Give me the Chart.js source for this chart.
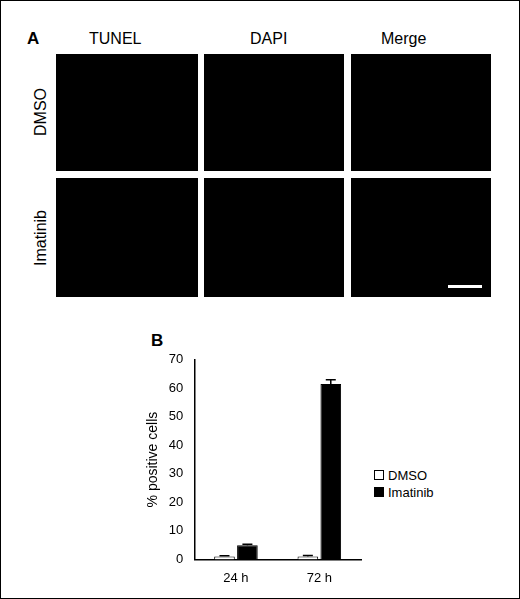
<!DOCTYPE html>
<html><head><meta charset="utf-8">
<script src="https://cdn.jsdelivr.net/npm/chart.js@4/dist/chart.umd.min.js"></script>
<style>
body{margin:0;background:#fff;font-family:"Liberation Sans",Arial,sans-serif;}
#fig{position:absolute;left:0;top:0;width:518px;height:597px;border:1px solid #000;}
.t{position:absolute;font-size:16px;color:#000;}
.img{position:absolute;background:#000;}
.rot{position:absolute;transform:rotate(-90deg);transform-origin:center;font-size:16px;white-space:nowrap;}
#wrap{position:absolute;left:140px;top:348px;width:230px;height:240px;}
.lg{position:absolute;font-size:13px;}
.box{display:inline-block;width:8px;height:8px;border:1px solid #000;margin-right:4px;vertical-align:0px;}
</style></head><body>
<div id="fig">
<div class="t" style="left:26px;top:28px;font-weight:bold;font-size:17px">A</div>
<div class="t" style="left:88px;top:29px">TUNEL</div>
<div class="t" style="left:249px;top:29px">DAPI</div>
<div class="t" style="left:380px;top:29px">Merge</div>
<div class="img" style="left:55px;top:53px;width:142px;height:117px"></div>
<div class="img" style="left:203px;top:53px;width:140px;height:117px"></div>
<div class="img" style="left:350px;top:53px;width:140px;height:117px"></div>
<div class="img" style="left:55px;top:177px;width:142px;height:119px"></div>
<div class="img" style="left:203px;top:177px;width:140px;height:119px"></div>
<div class="img" style="left:350px;top:177px;width:140px;height:119px"></div>
<div style="position:absolute;left:447px;top:284px;width:34px;height:3px;background:#fff"></div>
<div class="rot" style="left:10px;top:102px;width:60px;text-align:center">DMSO</div>
<div class="rot" style="left:0px;top:228px;width:80px;text-align:center">Imatinib</div>
<div class="t" style="left:150px;top:330px;font-weight:bold;font-size:17px">B</div>
<div id="wrap"><canvas id="c"></canvas></div>
<div class="lg" style="left:373px;top:467px"><span class="box" style="background:#fff"></span>DMSO</div>
<div class="lg" style="left:373px;top:484px"><span class="box" style="background:#000"></span>Imatinib</div>
</div>
<script>
const categories=["24 h","72 h"];
const dmso=[1.0,1.0];
const dmsoErr=[0.3,0.4];
const imatinib=[5.0,61.5];
const imatinibErr=[0.3,1.5];
const errPlugin={id:'err',afterDatasetsDraw(ch){
 const ctx=ch.ctx,y=ch.scales.y;
 [[0,dmsoErr],[1,imatinibErr]].forEach(([di,errs])=>{
  ch.getDatasetMeta(di).data.forEach((b,i)=>{
   const v=ch.data.datasets[di].data[i];
   const top=y.getPixelForValue(v+errs[i]),base=y.getPixelForValue(v);
   ctx.save();ctx.strokeStyle='#000';ctx.lineWidth=1.5;ctx.beginPath();
   ctx.moveTo(b.x,base);ctx.lineTo(b.x,top);ctx.moveTo(b.x-5,top);ctx.lineTo(b.x+5,top);ctx.stroke();ctx.restore();
  });
 });
}};
new Chart(document.getElementById('c'),{type:'bar',
 data:{labels:categories,datasets:[
  {label:'DMSO',data:dmso,backgroundColor:'#fff',borderColor:'#000',borderWidth:1},
  {label:'Imatinib',data:imatinib,backgroundColor:'#000',borderColor:'#000',borderWidth:1}]},
 options:{responsive:true,maintainAspectRatio:false,animation:false,
  layout:{padding:{top:6,right:10,bottom:0}},
  plugins:{legend:{display:false},tooltip:{enabled:false}},
  datasets:{bar:{categoryPercentage:0.55,barPercentage:0.9}},
  scales:{
   x:{grid:{display:false},border:{color:'#000',width:1.5},ticks:{color:'#000',font:{size:13,family:'Liberation Sans'}}},
   y:{min:0,max:70,grid:{display:false,drawTicks:true},border:{color:'#000',width:1.5},
      ticks:{stepSize:10,color:'#000',font:{size:13,family:'Liberation Sans'}},
      title:{display:true,text:'% positive cells',color:'#000',font:{size:14,family:'Liberation Sans'}}}}},
 plugins:[errPlugin]});
</script>
</body></html>
